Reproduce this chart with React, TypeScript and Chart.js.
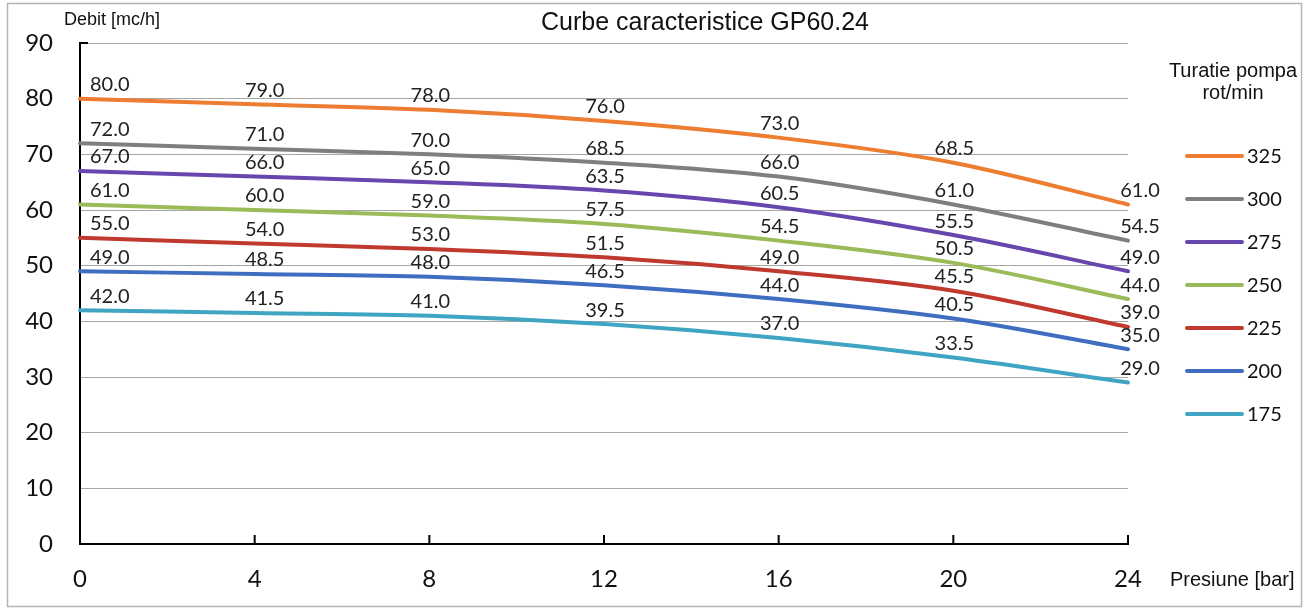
import { useEffect, useRef } from 'react';
import { Chart, registerables } from 'chart.js';

Chart.register(...registerables);

const pressures = [0, 4, 8, 12, 16, 20, 24];
const speedLabels = ['325', '300', '275', '250', '225', '200', '175'];
const flow325 = [80, 79, 78, 76, 73, 68.5, 61];
const flow300 = [72, 71, 70, 68.5, 66, 61, 54.5];
const flow275 = [67, 66, 65, 63.5, 60.5, 55.5, 49];
const flow250 = [61, 60, 59, 57.5, 54.5, 50.5, 44];
const flow225 = [55, 54, 53, 51.5, 49, 45.5, 39];
const flow200 = [49, 48.5, 48, 46.5, 44, 40.5, 35];
const flow175 = [42, 41.5, 41, 39.5, 37, 33.5, 29];
const allFlows = [flow325, flow300, flow275, flow250, flow225, flow200, flow175];
const colors = ['#ED7D31', '#7F7F7F', '#6746AE', '#9BBB59', '#C0392F', '#3F6EC0', '#3FA5C2'];

const TITLE = 'Curbe caracteristice GP60.24';
const Y_TITLE = 'Debit [mc/h]';
const X_TITLE = 'Presiune [bar]';
const LEGEND_TITLE_1 = 'Turatie pompa';
const LEGEND_TITLE_2 = 'rot/min';

const overlay = {
  id: 'overlay',
  afterDatasetsDraw(chart: any) {
    const ctx = chart.ctx;
    ctx.save();
    ctx.fillStyle = '#222';
    ctx.font = '20px Lato';
    ctx.textBaseline = 'middle';
    chart.data.datasets.forEach((ds: any, di: number) => {
      const meta = chart.getDatasetMeta(di);
      const last = meta.data.length - 1;
      meta.data.forEach((pt: any, i: number) => {
        const v = ds.data[i].y as number;
        let x = pt.x;
        ctx.textAlign = 'center';
        if (i === 0) {
          x += 10;
          ctx.textAlign = 'left';
        } else if (i === 1) x += 10;
        else if (i === last) x += 12;
        else x += 1;
        ctx.fillText(v.toFixed(1), x, pt.y - 14);
      });
    });
    ctx.restore();
  },
  afterDraw(chart: any) {
    const ctx = chart.ctx;
    const area = chart.chartArea;
    const xs = chart.scales.x;
    ctx.save();
    // outer border
    ctx.strokeStyle = '#B4B4B4';
    ctx.lineWidth = 1.5;
    ctx.strokeRect(7.5, 3.5, 1294, 603);
    // x tick marks inside
    ctx.strokeStyle = '#000';
    ctx.lineWidth = 2;
    pressures.forEach((p) => {
      if (p === 0) return;
      const px = xs.getPixelForValue(p);
      ctx.beginPath();
      ctx.moveTo(px, area.bottom);
      ctx.lineTo(px, area.bottom - 9);
      ctx.stroke();
    });
    ctx.beginPath();
    ctx.moveTo(area.left, area.top);
    ctx.lineTo(area.left + 8, area.top);
    ctx.stroke();
    // title
    ctx.fillStyle = '#111';
    ctx.textBaseline = 'middle';
    ctx.textAlign = 'center';
    ctx.font = '25px "Liberation Sans"';
    ctx.fillText(TITLE, 705, 23);
    // axis titles
    ctx.font = '18px "Liberation Sans"';
    ctx.textAlign = 'left';
    ctx.fillText(Y_TITLE, 64, 20);
    ctx.font = '20px "Liberation Sans"';
    ctx.fillText(X_TITLE, 1170, 580);
    // legend
    ctx.textAlign = 'center';
    ctx.font = '20px "Liberation Sans"';
    ctx.fillText(LEGEND_TITLE_1, 1233, 71);
    ctx.fillText(LEGEND_TITLE_2, 1233, 93);
    ctx.font = '20px Lato';
    ctx.textAlign = 'left';
    speedLabels.forEach((lab, i) => {
      const y = 156 + i * 43;
      ctx.strokeStyle = colors[i];
      ctx.lineWidth = 4;
      ctx.lineCap = 'round';
      ctx.beginPath();
      ctx.moveTo(1187, y);
      ctx.lineTo(1242, y);
      ctx.stroke();
      ctx.fillStyle = '#111';
      ctx.fillText(lab, 1247, y + 1);
    });
    ctx.restore();
  },
};

export default function App() {
  const ref = useRef<HTMLCanvasElement | null>(null);
  useEffect(() => {
    document.body.style.margin = '0';
    const canvas = ref.current;
    if (!canvas) return;
    const chart = new Chart(canvas, {
      type: 'line',
      data: {
        datasets: speedLabels.map((lab, i) => ({
          label: lab,
          data: pressures.map((p, j) => ({ x: p, y: allFlows[i][j] })),
          borderColor: colors[i],
          backgroundColor: colors[i],
          borderWidth: 4,
          pointRadius: 0,
          tension: 0.4,
          cubicInterpolationMode: 'monotone' as const,
          clip: false as any,
          borderCapStyle: 'round' as const,
        })),
      },
      options: {
        animation: false,
        responsive: false,
        events: [],
        layout: { padding: { left: 10, right: 180, top: 43, bottom: 0 } },
        plugins: { legend: { display: false }, tooltip: { enabled: false }, title: { display: false } },
        scales: {
          x: {
            type: 'linear',
            min: 0,
            max: 24,
            afterFit: (s: any) => {
              s.height = 68;
            },
            ticks: { stepSize: 4, font: { family: 'Lato', size: 24 }, color: '#111', padding: 21 },
            grid: { display: false, drawTicks: false },
            border: { display: true, color: '#000', width: 2 },
          },
          y: {
            min: 0,
            max: 90,
            afterFit: (s: any) => {
              s.width = 70;
            },
            ticks: { stepSize: 10, font: { family: 'Lato', size: 24 }, color: '#111', padding: 27 },
            grid: { color: '#A6A6A6', lineWidth: 1, drawTicks: false },
            border: { display: true, color: '#000', width: 2 },
          },
        },
      },
      plugins: [overlay],
    });
    return () => chart.destroy();
  }, []);
  return <canvas ref={ref} width={1308} height={612} style={{ display: 'block' }} />;
}
